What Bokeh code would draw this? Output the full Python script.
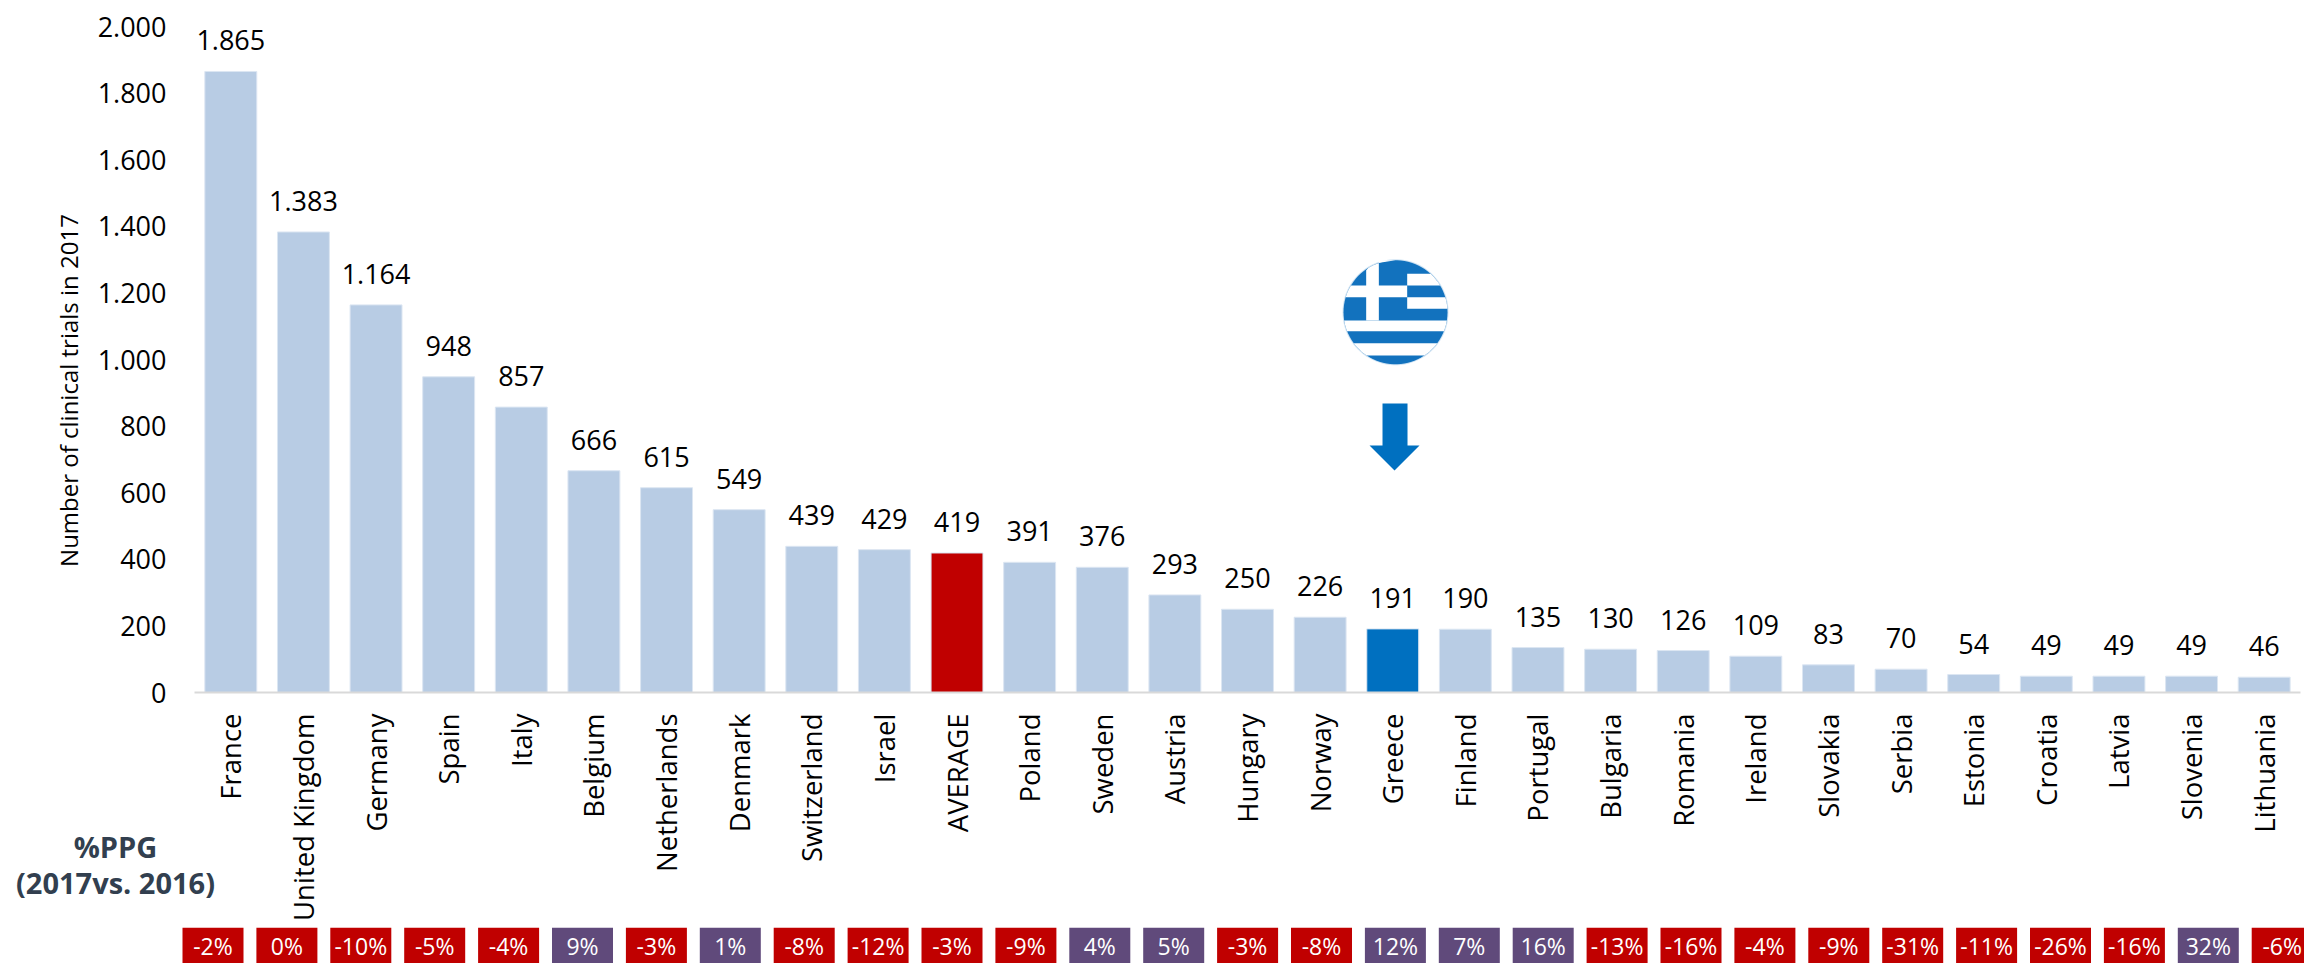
import math
from bokeh.plotting import figure
from bokeh.models import ColumnDataSource, FactorRange, Range1d, FixedTicker
from bokeh.layouts import column, row
from bokeh.core.properties import value
from bokeh.embed import file_html
from bokeh.resources import INLINE

countries = ["France", "United Kingdom", "Germany", "Spain", "Italy", "Belgium", "Netherlands", "Denmark",
             "Switzerland", "Israel", "AVERAGE", "Poland", "Sweden", "Austria", "Hungary", "Norway", "Greece",
             "Finland", "Portugal", "Bulgaria", "Romania", "Ireland", "Slovakia", "Serbia", "Estonia", "Croatia",
             "Latvia", "Slovenia", "Lithuania"]
trials = [1865, 1383, 1164, 948, 857, 666, 615, 549, 439, 429, 419, 391, 376, 293, 250, 226, 191, 190, 135, 130,
          126, 109, 83, 70, 54, 49, 49, 49, 46]
ppg = [-2, 0, -10, -5, -4, 9, -3, 1, -8, -12, -3, -9, 4, 5, -3, -8, 12, 7, 16, -13, -16, -4, -9, -31, -11, -26,
       -16, 32, -6]
y_ticks = [0, 200, 400, 600, 800, 1000, 1200, 1400, 1600, 1800, 2000]
y_title = "Number of clinical trials in 2017"
table_title = ["%PPG", "(2017vs. 2016)"]

FONT = "Open Sans"
LIGHT, RED, BLUE, PURPLE = "#B8CCE4", "#C00000", "#0070C0", "#604A7B"
FRAME_LEFT, FRAME_BOTTOM = 194, 692


def dotted(v):
    return f"{v:,}".replace(",", ".")


bar_colors = [RED if c == "AVERAGE" else BLUE if c == "Greece" else LIGHT for c in countries]
src = ColumnDataSource(dict(x=countries, y=trials, c=bar_colors, t=[dotted(v) for v in trials]))

p = figure(width=2304, height=927, x_range=FactorRange(factors=countries, factor_padding=0, range_padding=0),
           y_range=Range1d(0, 2000), output_backend="svg", toolbar_location=None,
           min_border_left=FRAME_LEFT, min_border_right=4, min_border_top=26, min_border_bottom=235)
p.outline_line_color = None
p.grid.visible = False
p.vbar(x="x", top="y", width=0.715, fill_color="c", line_color="#DCE6F2", line_width=1, source=src)
p.text(x="x", y="y", text="t", source=src, text_align="center", text_baseline="alphabetic", y_offset=-31,
       text_font=value(FONT), text_font_size="27px", text_color="#000000")

ax = p.xaxis[0]
ax.axis_line_color = "#D9D9D9"
ax.axis_line_width = 2
ax.major_tick_line_color = None
ax.minor_tick_line_color = None
ax.major_label_orientation = math.pi / 2
ax.major_label_standoff = 15
ax.major_label_text_font = FONT
ax.major_label_text_font_size = "27.5px"
ax.major_label_text_color = "#000000"

ay = p.yaxis[0]
ay.ticker = FixedTicker(ticks=y_ticks)
ay.major_label_overrides = {v: dotted(v) for v in y_ticks}
ay.axis_line_color = None
ay.major_tick_line_color = None
ay.minor_tick_line_color = None
ay.major_label_standoff = 22
ay.major_label_text_font = FONT
ay.major_label_text_font_size = "27px"
ay.major_label_text_color = "#000000"


# decoration: position given in page pixels of the reference, mapped to the plot's coordinates
def sx(px):
    return (px - FRAME_LEFT) / 72.62


def sy(py):
    return (FRAME_BOTTOM - py) / 0.333


ARROW = [(1382, 403), (1407, 403), (1407, 445), (1419, 445), (1394, 470), (1369, 445), (1382, 445)]
p.patch([sx(a) for a, _ in ARROW], [sy(b) for _, b in ARROW], fill_color=BLUE, line_color=None)

CX, CY, R = 1395, 311.7, 52


def clipped(x0, x1, y0, y1, n=24):
    y0, y1 = max(y0, CY - R), min(y1, CY + R)
    ys = [y0 + (y1 - y0) * i / n for i in range(n + 1)]
    half = [math.sqrt(max(R * R - (y - CY) ** 2, 0)) for y in ys]
    lefts = [max(x0, CX - h) for h in half]
    rights = [min(x1, CX + h) for h in half]
    xs = lefts + rights[::-1]
    yy = ys + ys[::-1]
    return [sx(a) for a in xs], [sy(b) for b in yy]


t = [math.cos(2 * math.pi * i / 90) for i in range(90)]
s = [math.sin(2 * math.pi * i / 90) for i in range(90)]
p.patch([sx(CX + (R + 1) * a) for a in t], [sy(CY + (R + 1) * b) for b in s], fill_color="#CFE3F3", line_color=None)
p.patch([sx(CX + R * a) for a in t], [sy(CY + R * b) for b in s], fill_color="#1272BE", line_color=None)
canton_r = 1300 + 320 / 3
stripes = [(canton_r, 1500, 240 + 100 / 3, 240 + 135 / 3), (canton_r, 1500, 240 + 170 / 3, 240 + 205 / 3),
           (1300, 1500, 240 + 240 / 3, 240 + 272 / 3), (1300, 1500, 240 + 308 / 3, 240 + 345 / 3),
           (1300 + 197 / 3, 1300 + 235 / 3, 240, 240 + 240 / 3), (1300, canton_r, 240 + 135 / 3, 240 + 170 / 3)]
for r in stripes:
    xs, ys = clipped(*r)
    p.patch(xs, ys, fill_color="#FFFFFF", line_color=None)

# %PPG table: one cell per country, at its own pitch
pill_src = ColumnDataSource(dict(x=list(range(len(ppg))), c=[PURPLE if v > 0 else RED for v in ppg],
                                 t=[f"{v}%" for v in ppg]))
PITCH, FIRST = 73.9, 212.5
q = figure(width=2304, height=36, x_range=Range1d((0 - FIRST) / PITCH, (2304 - FIRST) / PITCH), y_range=Range1d(0, 1),
           output_backend="svg", toolbar_location=None, min_border=0, min_border_left=0, min_border_right=0,
           min_border_top=0, min_border_bottom=0, x_axis_location=None, y_axis_location=None)
q.outline_line_color = None
q.grid.visible = False
q.rect(x="x", y=0.5, width=61 / PITCH, height=1, fill_color="c", line_color=None, source=pill_src)
q.text(x="x", y=0.5, text="t", source=pill_src, text_align="center", text_baseline="middle", text_color="#FFFFFF",
       text_font=value(FONT), text_font_size="23px")

# transparent page-sized layer for the texts that sit outside the plot frame
o = figure(width=2304, height=963, x_range=Range1d(0, 2304), y_range=Range1d(963, 0), output_backend="svg",
           toolbar_location=None, min_border=0, min_border_left=0, min_border_right=0, min_border_top=0,
           min_border_bottom=0, x_axis_location=None, y_axis_location=None, margin=(-963, 0, 0, 0))
o.outline_line_color = None
o.grid.visible = False
o.background_fill_alpha = 0
o.border_fill_alpha = 0
o.text(x=[67.5], y=[390], text=[y_title], angle=math.pi / 2, text_align="center", text_baseline="middle",
       text_font=value(FONT), text_font_size="24px", text_color="#000000")
o.text(x=[115, 115], y=[846, 882], text=table_title, text_align="center", text_baseline="middle",
       text_font=value(FONT), text_font_size="29px", text_font_style="bold", text_color="#323F4F")

open("out.html", "w").write(file_html(column(p, row(q), row(o), spacing=0), INLINE))
